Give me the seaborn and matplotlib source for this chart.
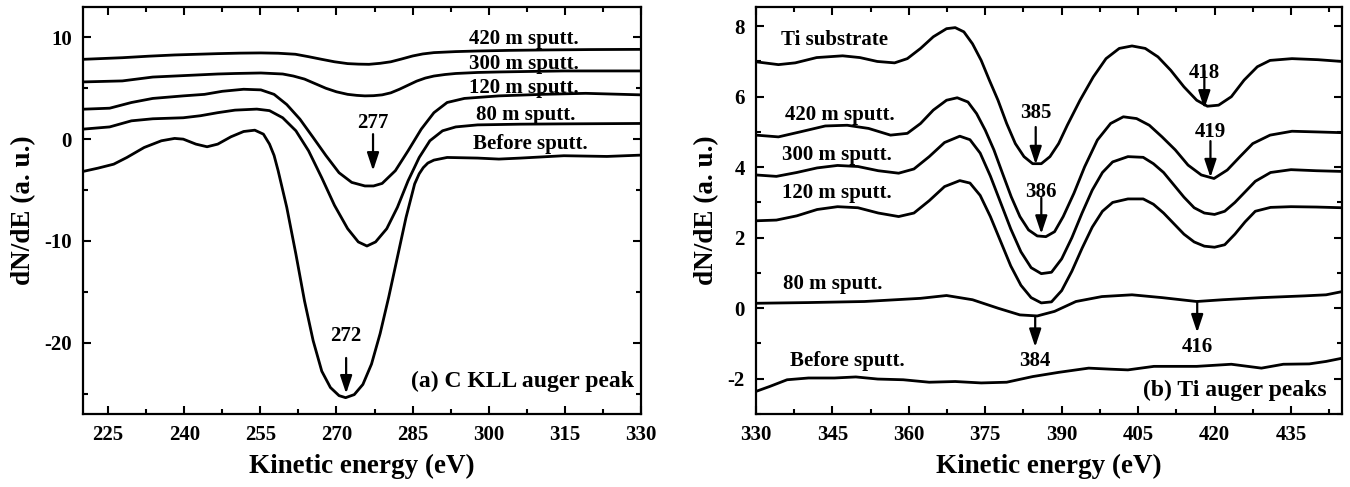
import numpy as np
import pandas as pd
import matplotlib
matplotlib.use("Agg")
import matplotlib.pyplot as plt
from matplotlib.ticker import MultipleLocator
import seaborn as sns

# ---------------- Panel (a): C KLL ----------------
c_series = ["Before sputt.", "80 m sputt.", "120 m sputt.", "300 m sputt.", "420 m sputt."]

c_E_before = [220, 223.0, 226.1, 228.7, 232.1, 235.5, 238.1, 239.8, 242.3, 244.5, 246.6, 249.2, 251.7,
              253.9, 255.6, 256.8, 257.7, 258.5, 260.2, 262.0, 263.7, 265.4, 267.1, 268.8, 270.5, 271.8,
              273.5, 275.2, 276.9, 278.6, 280.3, 282.0, 283.7, 285.4, 286.3, 287.1, 288.0, 289.2,
              291.8, 297.8, 302.0, 306.3, 314.8, 323.3, 330]
c_v_before = [-3.18, -2.85, -2.46, -1.8, -0.82, -0.16, 0.07, 0.0, -0.49, -0.75, -0.49, 0.23, 0.75,
              0.88, 0.49, -0.49, -1.6, -3.1, -6.7, -11.3, -15.9, -19.8, -22.8, -24.4, -25.2, -25.4,
              -25.1, -24.1, -22.1, -19.1, -15.5, -11.6, -7.7, -4.4, -3.4, -2.8, -2.35, -2.06,
              -1.8, -1.86, -1.96, -1.86, -1.63, -1.7, -1.57]

c_E_80 = [220, 225.3, 229.6, 233.8, 239.8, 243.2, 246.6, 250.0, 254.3, 256.8, 259.4, 262.0, 264.5,
          267.1, 269.6, 272.2, 274.3, 276.0, 277.7, 279.9, 282.0, 284.1, 286.3, 288.4, 290.9,
          293.5, 297.8, 306.3, 314.8, 330]
c_v_80 = [0.98, 1.2, 1.8, 2.0, 2.1, 2.3, 2.6, 2.85, 2.95, 2.8, 2.1, 0.82, -1.15,
          -3.8, -6.5, -8.8, -10.1, -10.5, -10.1, -8.8, -6.7, -4.1, -1.8, -0.16, 0.82,
          1.2, 1.4, 1.47, 1.5, 1.54]

c_E_120 = [220, 225.3, 229.6, 233.8, 239.8, 244.0, 247.5, 251.7, 255.1, 257.7, 260.2, 262.8, 265.4,
           267.9, 270.5, 273.0, 275.6, 277.3, 279.0, 281.6, 284.1, 286.7, 289.2, 291.8, 295.2,
           302.0, 310.6, 319.1, 330]
c_v_120 = [2.94, 3.04, 3.6, 4.0, 4.25, 4.4, 4.7, 4.9, 4.84, 4.4, 3.4, 1.96, 0.16,
           -1.6, -3.3, -4.25, -4.6, -4.6, -4.35, -3.1, -1.15, 0.98, 2.6, 3.6, 4.0,
           4.25, 4.4, 4.5, 4.35]

c_E_300 = [220, 227.8, 233.8, 239.8, 246.6, 250.0, 255.1, 259.4, 261.5, 263.7, 265.8, 267.9, 270.0,
           272.2, 274.0, 275.6, 277.3, 279.0, 280.7, 282.4, 284.1, 285.8, 287.5, 289.2, 291.4,
           293.5, 297.8, 302.0, 308.0, 314.8, 322.0, 330]
c_v_300 = [5.62, 5.72, 6.1, 6.24, 6.4, 6.45, 6.5, 6.4, 6.2, 5.9, 5.45, 5.0, 4.65,
           4.4, 4.3, 4.25, 4.27, 4.35, 4.55, 4.9, 5.3, 5.7, 6.0, 6.2, 6.35,
           6.45, 6.55, 6.6, 6.65, 6.7, 6.7, 6.7]

c_E_420 = [220, 227.8, 233.0, 238.1, 246.6, 251.0, 255.1, 258.5, 261.9, 264.5, 267.1, 269.6,
           272.2, 274.3, 276.4, 278.6, 280.7, 282.8, 285.0, 287.0, 289.2, 293.5, 297.8, 304.0,
           310.6, 320.0, 330]
c_v_420 = [7.84, 8.0, 8.15, 8.27, 8.4, 8.45, 8.47, 8.44, 8.34, 8.1, 7.84, 7.6,
           7.42, 7.37, 7.35, 7.45, 7.6, 7.87, 8.17, 8.37, 8.5, 8.6, 8.66, 8.72,
           8.76, 8.8, 8.82]

c_label_x = [308.2, 307.3, 307.0, 307.0, 307.0]
c_label_y = [-0.98, 1.89, 4.57, 6.92, 9.37]

c_peak_labels = ["277", "272"]
c_peak_x = [277.2, 271.9]
c_arrow_top = [0.49, -21.5]
c_arrow_bot = [-3.1, -25.0]
c_text_y = [1.08, -19.8]

# ---------------- Panel (b): Ti ----------------
t_series = ["Before sputt.", "80 m sputt.", "120 m sputt.", "300 m sputt.", "420 m sputt.", "Ti substrate"]

t_E_before = [330, 332.7, 336.1, 340.3, 345.4, 349.6, 353.9, 358.9, 364.0, 369.1, 374.2, 379.2,
              384.3, 389.4, 395.3, 399.6, 403.0, 408.1, 416.5, 423.3, 429.2, 433.5, 438.6, 441.9, 445]
t_v_before = [-2.36, -2.22, -2.03, -1.98, -1.98, -1.95, -2.01, -2.03, -2.1, -2.08, -2.12, -2.1,
              -1.94, -1.82, -1.7, -1.73, -1.75, -1.65, -1.65, -1.59, -1.7, -1.59, -1.58, -1.51, -1.42]

t_E_80 = [330, 340.3, 351.3, 362.3, 367.4, 372.5, 377.5, 381.8, 385.2, 388.6, 392.8, 397.9,
          403.8, 409.7, 416.5, 421.6, 429.2, 437.7, 441.9, 445]
t_v_80 = [0.14, 0.16, 0.19, 0.28, 0.36, 0.24, 0.0, -0.19, -0.22, -0.09, 0.19, 0.33,
          0.38, 0.3, 0.19, 0.24, 0.3, 0.35, 0.38, 0.47]

t_E_mid = [330, 334, 338, 342, 346, 350, 354, 358, 361, 364, 367, 370, 372, 374, 376, 378, 380,
           382, 384, 386, 388, 390, 392, 394, 396, 398, 400, 403, 406, 408, 410, 412, 414, 416,
           418, 420, 422, 424, 426, 428, 431, 435, 440, 445]
t_v_120 = [2.48, 2.5, 2.62, 2.8, 2.88, 2.85, 2.7, 2.6, 2.7, 3.05, 3.45, 3.62, 3.55, 3.2, 2.6, 1.9,
           1.2, 0.65, 0.3, 0.15, 0.18, 0.5, 1.05, 1.7, 2.3, 2.75, 3.0, 3.1, 3.1, 2.95, 2.7, 2.4,
           2.1, 1.88, 1.76, 1.73, 1.8, 2.1, 2.45, 2.75, 2.86, 2.88, 2.87, 2.85]
t_v_300 = [3.78, 3.74, 3.85, 3.98, 4.05, 4.02, 3.9, 3.83, 3.95, 4.3, 4.7, 4.88, 4.78, 4.4, 3.75,
           3.0, 2.25, 1.6, 1.15, 0.98, 1.02, 1.4, 2.0, 2.7, 3.35, 3.85, 4.15, 4.3, 4.28, 4.1,
           3.85, 3.5, 3.15, 2.85, 2.7, 2.66, 2.75, 3.0, 3.3, 3.6, 3.85, 3.93, 3.9, 3.88]

t_E_420 = [330, 334.4, 338.6, 343.6, 347.9, 352.1, 356.4, 359.7, 362.3, 364.8, 367.4, 369.5,
           371.6, 373.3, 375.0, 376.7, 378.4, 380.1, 381.8, 383.5, 385.2, 386.9, 388.6, 390.3,
           392.4, 394.5, 397.0, 399.6, 402.1, 404.7, 407.2, 409.7, 412.3, 414.8, 417.4, 419.9,
           422.5, 425.0, 427.5, 430.9, 435.2, 440.3, 445]
t_v_420 = [4.91, 4.86, 5.0, 5.17, 5.19, 5.1, 4.91, 4.96, 5.24, 5.62, 5.9, 5.97,
           5.85, 5.52, 5.05, 4.49, 3.82, 3.16, 2.6, 2.22, 2.05, 2.03, 2.17, 2.6,
           3.26, 4.01, 4.77, 5.24, 5.43, 5.38, 5.19, 4.86, 4.49, 4.06, 3.78, 3.68,
           3.92, 4.3, 4.67, 4.91, 5.02, 5.0, 4.98]

t_E_ti = [330, 334.4, 337.7, 341.9, 347.0, 350.4, 353.8, 357.2, 359.7, 362.3, 364.8, 367.4,
          369.1, 370.8, 372.5, 374.2, 375.8, 377.5, 379.2, 380.9, 382.6, 384.3, 386.0, 387.7,
          389.4, 391.1, 393.6, 396.2, 398.7, 401.3, 403.8, 406.4, 408.9, 411.4, 414.0, 416.5,
          418.6, 420.8, 423.3, 425.8, 428.4, 430.9, 435.2, 440.3, 445]
t_v_ti = [6.99, 6.91, 6.96, 7.11, 7.16, 7.11, 7.0, 6.96, 7.08, 7.37, 7.7, 7.93,
          7.96, 7.84, 7.5, 7.03, 6.47, 5.9, 5.24, 4.67, 4.3, 4.1, 4.1, 4.3,
          4.67, 5.19, 5.9, 6.56, 7.08, 7.37, 7.44, 7.37, 7.13, 6.75, 6.28, 5.9,
          5.73, 5.76, 6.0, 6.47, 6.85, 7.03, 7.08, 7.05, 7.0]

t_label_x = [336.6, 335.3, 335.2, 335.2, 335.6, 335.0]
t_label_y = [-1.63, 0.54, 3.14, 4.2, 5.35, 7.48]

t_peak_labels = ["385", "386", "418", "419", "384", "416"]
t_peak_x = [384.9, 386.0, 418.0, 419.2, 384.8, 416.6]
t_arrow_top = [5.14, 3.13, 6.73, 4.74, -0.24, 0.19]
t_arrow_bot = [4.08, 2.11, 5.66, 3.71, -1.10, -0.69]
t_text_y = [5.4, 3.16, 6.52, 4.85, -1.65, -1.25]

# ---------------- Build frames ----------------
c_df = pd.concat([
    pd.DataFrame({"E": e, "v": v, "s": s}) for e, v, s in zip(
        [c_E_before, c_E_80, c_E_120, c_E_300, c_E_420],
        [c_v_before, c_v_80, c_v_120, c_v_300, c_v_420], c_series)
], ignore_index=True)
t_df = pd.concat([
    pd.DataFrame({"E": e, "v": v, "s": s}) for e, v, s in zip(
        [t_E_before, t_E_80, t_E_mid, t_E_mid, t_E_420, t_E_ti],
        [t_v_before, t_v_80, t_v_120, t_v_300, t_v_420, t_v_ti], t_series)
], ignore_index=True)

sns.set_theme(style="ticks")
plt.rcParams["font.family"] = ["Liberation Serif", "DejaVu Serif"]
plt.rcParams["font.weight"] = "bold"
plt.rcParams["axes.labelweight"] = "bold"
plt.rcParams["text.color"] = "black"
plt.rcParams["axes.labelcolor"] = "black"
plt.rcParams["xtick.color"] = "black"
plt.rcParams["ytick.color"] = "black"
plt.rcParams["axes.edgecolor"] = "black"
plt.rcParams["axes.unicode_minus"] = False

fig = plt.figure(figsize=(13.5, 4.87), dpi=100)
axL = fig.add_axes([0.0613, 0.150, 0.4135, 0.836])
axR = fig.add_axes([0.560, 0.150, 0.434, 0.836])

for ax, df in ((axL, c_df), (axR, t_df)):
    sns.lineplot(data=df, x="E", y="v", units="s", estimator=None, sort=False,
                 color="black", lw=2.0, ax=ax, legend=False)

TXT = 15
# panel a texts
for lab, x, y in zip(c_series, c_label_x, c_label_y):
    axL.text(x, y, lab, ha="center", va="baseline", fontsize=TXT, fontweight="bold", color="black")
for lab, x, y0, y1, ty in zip(c_peak_labels, c_peak_x, c_arrow_top, c_arrow_bot, c_text_y):
    axL.annotate("", xy=(x, y1), xytext=(x, y0),
                 arrowprops=dict(arrowstyle="-|>,head_length=0.9,head_width=0.3",
                                 color="black", lw=1.6, shrinkA=0, shrinkB=0))
    axL.text(x, ty, lab, ha="center", va="baseline", fontsize=TXT, fontweight="bold", color="black")
axL.text(328.7, -24.4, "(a) C KLL auger peak", ha="right", va="baseline",
         fontsize=17, fontweight="bold", color="black")

# panel b texts
for lab, x, y in zip(t_series, t_label_x, t_label_y):
    axR.text(x, y, lab, ha="left", va="baseline", fontsize=TXT, fontweight="bold", color="black")
for lab, x, y0, y1, ty in zip(t_peak_labels, t_peak_x, t_arrow_top, t_arrow_bot, t_text_y):
    axR.annotate("", xy=(x, y1), xytext=(x, y0),
                 arrowprops=dict(arrowstyle="-|>,head_length=0.9,head_width=0.3",
                                 color="black", lw=1.6, shrinkA=0, shrinkB=0))
    axR.text(x, ty, lab, ha="center", va="baseline", fontsize=TXT, fontweight="bold", color="black")
axR.text(442.0, -2.49, "(b) Ti auger peaks", ha="right", va="baseline",
         fontsize=17, fontweight="bold", color="black")

# axes formatting
axL.set_xlim(220, 330)
axL.set_ylim(-27, 13)
axL.set_xticks([225, 240, 255, 270, 285, 300, 315, 330])
axL.xaxis.set_minor_locator(MultipleLocator(7.5))
axL.yaxis.set_major_locator(MultipleLocator(10))
axL.yaxis.set_minor_locator(MultipleLocator(5))

axR.set_xlim(330, 445)
axR.set_ylim(-3, 8.55)
axR.set_xticks([330, 345, 360, 375, 390, 405, 420, 435])
axR.xaxis.set_minor_locator(MultipleLocator(7.5))
axR.yaxis.set_major_locator(MultipleLocator(2))
axR.yaxis.set_minor_locator(MultipleLocator(1))

for ax in (axL, axR):
    ax.set_xlabel("Kinetic energy (eV)", fontsize=19.5, fontweight="bold", labelpad=6, color="black")
    ax.set_ylabel("dN/dE (a. u.)", fontsize=19.5, fontweight="bold", labelpad=6, color="black")
    ax.tick_params(which="both", direction="in", top=True, right=True, width=1.5,
                   labelsize=15, pad=8, colors="black")
    ax.tick_params(which="major", length=6)
    ax.tick_params(which="minor", length=3.5)
    for lbl in ax.get_xticklabels() + ax.get_yticklabels():
        lbl.set_fontweight("bold")
    for sp in ax.spines.values():
        sp.set_linewidth(1.6)
        sp.set_color("black")
        sp.set_visible(True)

fig.savefig("out.png", dpi=100)
